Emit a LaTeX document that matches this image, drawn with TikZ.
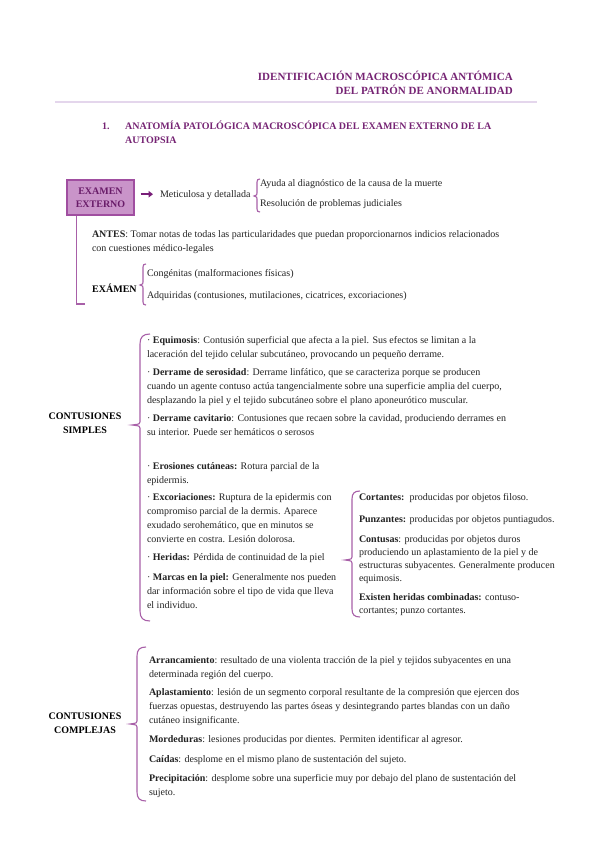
\documentclass[tikz,border=0pt]{standalone}
\usepackage{fontspec}
\setmainfont{Liberation Serif}
\usetikzlibrary{arrows.meta}
\definecolor{ttl}{RGB}{118,36,116}
\definecolor{boxf}{RGB}{201,148,201}
\definecolor{boxd}{RGB}{160,78,160}
\definecolor{boxt}{RGB}{105,28,105}
\definecolor{arrc}{RGB}{120,30,120}
\definecolor{brkc}{RGB}{168,96,168}
\definecolor{rulec}{RGB}{228,214,236}
\definecolor{bodyc}{RGB}{35,35,35}
\tikzset{
  txt/.style={font=\fontsize{10}{14}\selectfont, text=bodyc, inner sep=0pt, outer sep=0pt, align=left, anchor=north west},
  txtr/.style={txt, font=\fontsize{10}{13}\selectfont},
  hdr/.style={font=\fontsize{11}{14}\selectfont\bfseries, text=ttl, inner sep=0pt, align=right, anchor=north east},
  sec/.style={font=\fontsize{10}{14}\selectfont\bfseries, text=ttl, inner sep=0pt, align=left, anchor=north west},
  lbl/.style={font=\fontsize{10}{14}\selectfont\bfseries, text=black, inner sep=0pt, align=center, anchor=north},
  lblL/.style={lbl, anchor=north west},
  exbox/.style={draw=boxd, fill=boxf, line width=1.3pt, minimum width=67pt, minimum height=35pt, inner sep=0pt, font=\fontsize{10}{12.5}\selectfont\bfseries, text=boxt, align=center},
  arr/.style={draw=arrc, line width=2.2pt, -{Triangle[length=4.5pt,width=6.5pt]}},
  brk/.style={draw=brkc, line width=1.1pt},
  lline/.style={draw=brkc, line width=1.4pt},
}
\newcommand\mybrace[6]{%
  \draw[brk] ({#1+#5},#2) .. controls ({#1+0.3*#5},#2) and (#1,{#2+0.3*#5}) .. (#1,{#2+#5})
    -- (#1,{#4-3}) .. controls (#1,{#4-1}) .. ({#1-#6},#4) .. controls (#1,{#4+1}) .. (#1,{#4+3})
    -- (#1,{#3-#5}) .. controls (#1,{#3-0.3*#5}) and ({#1+0.3*#5},#3) .. ({#1+#5},#3);}
\begin{document}
\begin{tikzpicture}[x=1pt,y=-1pt]
\useasboundingbox (0,0) rectangle (599,848);
\fill[white] (0,0) rectangle (599,848);
% header
\node[hdr] (h1) at (513,70.2) {\strut IDENTIFICACIÓN MACROSCÓPICA ANTÓMICA\\DEL PATRÓN DE ANORMALIDAD};
\draw[rulec, line width=1.5pt] (55,102) -- (537,102);
% section
\node[sec] (s1n) at (102,119.2) {\strut 1.};
\node[sec] (s1) at (125,119.2) {\strut ANATOMÍA PATOLÓGICA MACROSCÓPICA DEL EXAMEN EXTERNO DE LA\\AUTOPSIA};
% examen externo
\node[exbox] (ext) at (100.5,197.5) {EXAMEN\\EXTERNO};
\node[txt] (met) at (160,187.2) {\strut Meticulosa y detallada};
\draw[arr] ([xshift=6pt]ext.east |- met.west) -- ([xshift=-7pt]met.west);
\mybrace{257}{179}{212}{196}{3}{3}
\node[txt] (ayu) at (260,176.2) {\strut Ayuda al diagnóstico de la causa de la muerte};
\node[txt] (res) at (260,196.2) {\strut Resolución de problemas judiciales};
\coordinate (lend) at (85,304);
\draw[lline] ([xshift=10pt]ext.south west) |- (lend);
\node[txt] (ant) at (92,227.2) {\strut\textbf{ANTES}: Tomar notas de todas las particularidades que puedan proporcionarnos indicios relacionados\\con cuestiones médico-legales};
\node[lblL] (exa) at (92,282.2) {\strut EXÁMEN};
\mybrace{143}{264}{305}{285}{3}{3}
\node[txt] (cong) at (147,266.2) {\strut Congénitas (malformaciones físicas)};
\node[txt] (adq) at (147,288.2) {\strut Adquiridas (contusiones, mutilaciones, cicatrices, excoriaciones)};
% contusiones simples
\node[lbl] (cs) at (85,409.2) {\strut CONTUSIONES\\SIMPLES};
\mybrace{140}{334}{621}{425}{10}{8}
\node[txt] (eq) at (147,333.2) {\strut ·\ \textbf{Equimosis}: Contusión superficial que afecta a la piel. Sus efectos se limitan a la\\laceración del tejido celular subcutáneo, provocando un pequeño derrame.};
\node[txt] (ds) at (147,365.2) {\strut ·\ \textbf{Derrame de serosidad}: Derrame linfático, que se caracteriza porque se producen\\cuando un agente contuso actúa tangencialmente sobre una superficie amplia del cuerpo,\\desplazando la piel y el tejido subcutáneo sobre el plano aponeurótico muscular.};
\node[txt] (dc) at (147,411.2) {\strut ·\ \textbf{Derrame cavitario}: Contusiones que recaen sobre la cavidad, produciendo derrames en\\su interior. Puede ser hemáticos o serosos};
\node[txt] (er) at (147,459.2) {\strut ·\ \textbf{Erosiones cutáneas:} Rotura parcial de la\\epidermis.};
\node[txt] (ex) at (147,490.2) {\strut ·\ \textbf{Excoriaciones:} Ruptura de la epidermis con\\compromiso parcial de la dermis. Aparece\\exudado serohemático, que en minutos se\\convierte en costra. Lesión dolorosa.};
\node[txt] (he) at (147,550.2) {\strut ·\ \textbf{Heridas:} Pérdida de continuidad de la piel};
\node[txt] (ma) at (147,570.2) {\strut ·\ \textbf{Marcas en la piel:} Generalmente nos pueden\\dar información sobre el tipo de vida que lleva\\el individuo.};
% heridas types
\mybrace{352}{491}{617}{560}{8}{7}
\node[txt] (co) at (359,490.2) {\strut\textbf{Cortantes:}\ \ producidas por objetos filoso.};
\node[txt] (pu) at (359,512.2) {\strut\textbf{Punzantes:} producidas por objetos puntiagudos.};
\node[txtr] (cn) at (359,533.2) {\strut\textbf{Contusas}: producidas por objetos duros\\produciendo un aplastamiento de la piel y de\\estructuras subyacentes. Generalmente producen\\equimosis.};
\node[txtr] (hc) at (359,591.2) {\strut\textbf{Existen heridas combinadas:} contuso-\\cortantes; punzo cortantes.};
% contusiones complejas
\node[lbl] (cc) at (85,709.2) {\strut CONTUSIONES\\COMPLEJAS};
\mybrace{137}{647}{801}{724}{9}{7}
\node[txt] (ar) at (149,653.2) {\strut\textbf{Arrancamiento}: resultado de una violenta tracción de la piel y tejidos subyacentes en una\\determinada región del cuerpo.};
\node[txt] (ap) at (149,685.2) {\strut\textbf{Aplastamiento}: lesión de un segmento corporal resultante de la compresión que ejercen dos\\fuerzas opuestas, destruyendo las partes óseas y desintegrando partes blandas con un daño\\cutáneo insignificante.};
\node[txt] (mo) at (149,732.2) {\strut\textbf{Mordeduras}: lesiones producidas por dientes. Permiten identificar al agresor.};
\node[txt] (ca) at (149,752.2) {\strut\textbf{Caídas}: desplome en el mismo plano de sustentación del sujeto.};
\node[txt] (pr) at (149,771.2) {\strut\textbf{Precipitación}: desplome sobre una superficie muy por debajo del plano de sustentación del\\sujeto.};
\end{tikzpicture}
\end{document}
